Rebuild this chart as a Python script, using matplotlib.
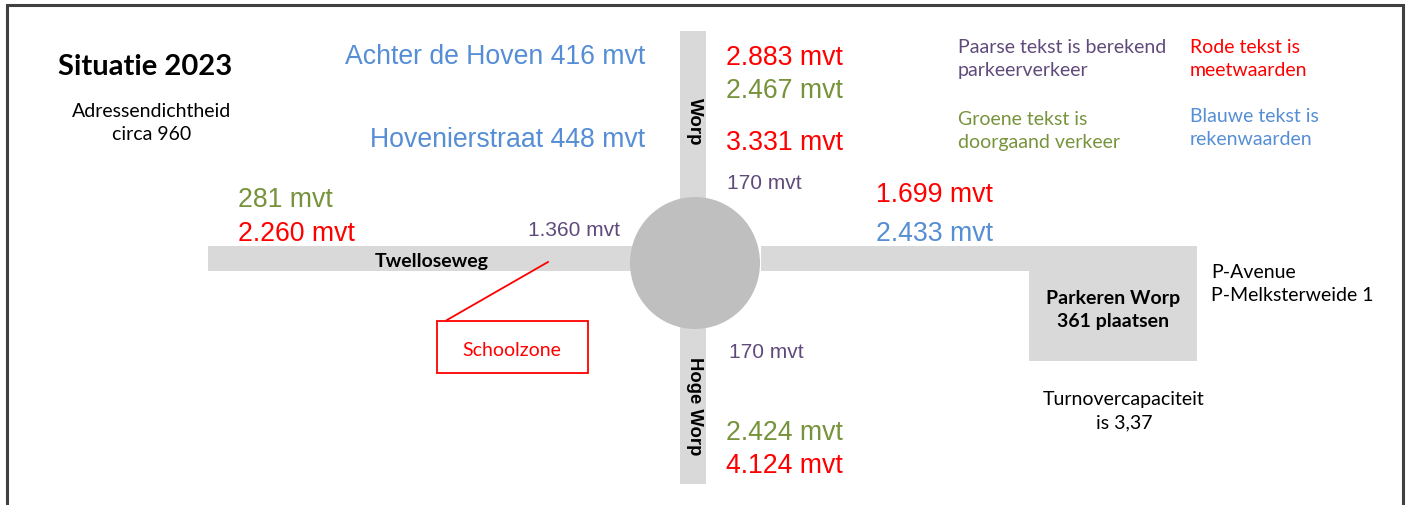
import matplotlib
matplotlib.use("Agg")
import matplotlib.pyplot as plt
from matplotlib.patches import Rectangle, Ellipse

W, H = 1407, 506
CAL = "Lato"                 # Calibri stand-in
ARIAL = "Liberation Sans"

BLUE, RED, GREEN, PURPLE = "#558ed5", "#ff0000", "#77933c", "#604a7b"
ROAD, RBT = "#d9d9d9", "#bfbfbf"

# traffic counts per arm (text, colour key)
north_labels = ["2.883 mvt", "2.467 mvt", "3.331 mvt"]
north_colors = [RED, GREEN, RED]
south_labels = ["2.424 mvt", "4.124 mvt"]
south_colors = [GREEN, RED]
west_labels = ["281 mvt", "2.260 mvt"]
west_colors = [GREEN, RED]
east_labels = ["1.699 mvt", "2.433 mvt"]
east_colors = [RED, BLUE]
street_calc = ["Achter de Hoven 416 mvt", "Hovenierstraat 448 mvt"]
parking_flows = ["170 mvt", "170 mvt", "1.360 mvt"]
legend_texts = ["Paarse tekst is berekend\nparkeerverkeer", "Groene tekst is\ndoorgaand verkeer",
                "Rode tekst is\nmeetwaarden", "Blauwe tekst is\nrekenwaarden"]
legend_colors = [PURPLE, GREEN, RED, BLUE]

fig = plt.figure(figsize=(W / 100, H / 100), dpi=100)
ax = fig.add_axes([0, 0, 1, 1])
ax.set_xlim(0, W); ax.set_ylim(H, 0); ax.axis("off")

# frame (open at the bottom)
ax.plot([7, 7, 1403, 1403], [H, 6, 6, H], color="#404040", lw=2.2, solid_joinstyle="miter")

# roads, parking and roundabout
ax.add_patch(Rectangle((208, 247), 440, 25, color=ROAD, lw=0))
ax.add_patch(Rectangle((761, 247), 436, 25, color=ROAD, lw=0))
ax.add_patch(Rectangle((1029, 247), 168, 115, color=ROAD, lw=0))
ax.add_patch(Rectangle((680, 32), 26, 180, color=ROAD, lw=0))
ax.add_patch(Rectangle((680, 320), 26, 165, color=ROAD, lw=0))
ax.add_patch(Ellipse((695, 264), 130, 132, color=RBT, lw=0))

def txt(x, y, s, size, color="black", family=CAL, ha="left", **kw):
    ax.text(x, y, s, fontsize=size, color=color, family=family, ha=ha, va="center", **kw)

# titles / notes
txt(145, 67, "Situatie 2023", 21, weight="bold", ha="center")
txt(152, 123, "Adressendichtheid\ncirca 960", 14, ha="center", linespacing=1.4)
txt(432, 261, "Twelloseweg", 14, weight="bold", ha="center")
txt(1113, 310, "Parkeren Worp\n361 plaatsen", 14, weight="bold", ha="center", linespacing=1.45)
txt(1211, 284, "P-Avenue\nP-Melksterweide 1", 14, linespacing=1.4)
txt(1124, 411, "Turnovercapaciteit\nis 3,37", 14, ha="center", linespacing=1.45)
txt(694, 122, "Worp", 13.5, family=ARIAL, weight="bold", ha="center", rotation=-90)
txt(694, 406, "Hoge Worp", 13.3, family=ARIAL, weight="bold", ha="center", rotation=-90)

# legend notes
for s, c, (x, y) in zip(legend_texts, legend_colors, [(958, 59), (958, 131), (1190, 59), (1190, 128)]):
    txt(x, y, s, 14, color=c, linespacing=1.4)

# counts
for s, y in zip(street_calc, [57, 140]):
    txt(645, y, s, 19.2, color=BLUE, family=ARIAL, ha="right")
for s, c, y in zip(north_labels, north_colors, [58, 91, 143]):
    txt(726, y, s, 19.2, color=c, family=ARIAL)
for s, c, y in zip(south_labels, south_colors, [433, 466]):
    txt(726, y, s, 19.2, color=c, family=ARIAL)
for s, c, y in zip(west_labels, west_colors, [200, 234]):
    txt(238, y, s, 19.2, color=c, family=ARIAL)
for s, c, y in zip(east_labels, east_colors, [195, 234]):
    txt(876, y, s, 19.2, color=c, family=ARIAL)
for s, (x, y, ha) in zip(parking_flows, [(727, 183, "left"), (729, 353, "left"), (620, 230, "right")]):
    txt(x, y, s, 15, color=PURPLE, family=ARIAL, ha=ha)

# schoolzone callout
ax.plot([548, 447], [263, 321], color=RED, lw=1.3)
ax.add_patch(Rectangle((437, 322), 151, 52, fill=False, edgecolor=RED, lw=1.3))
txt(512, 350, "Schoolzone", 14, color=RED, ha="center")

fig.savefig("out.png", dpi=100)
